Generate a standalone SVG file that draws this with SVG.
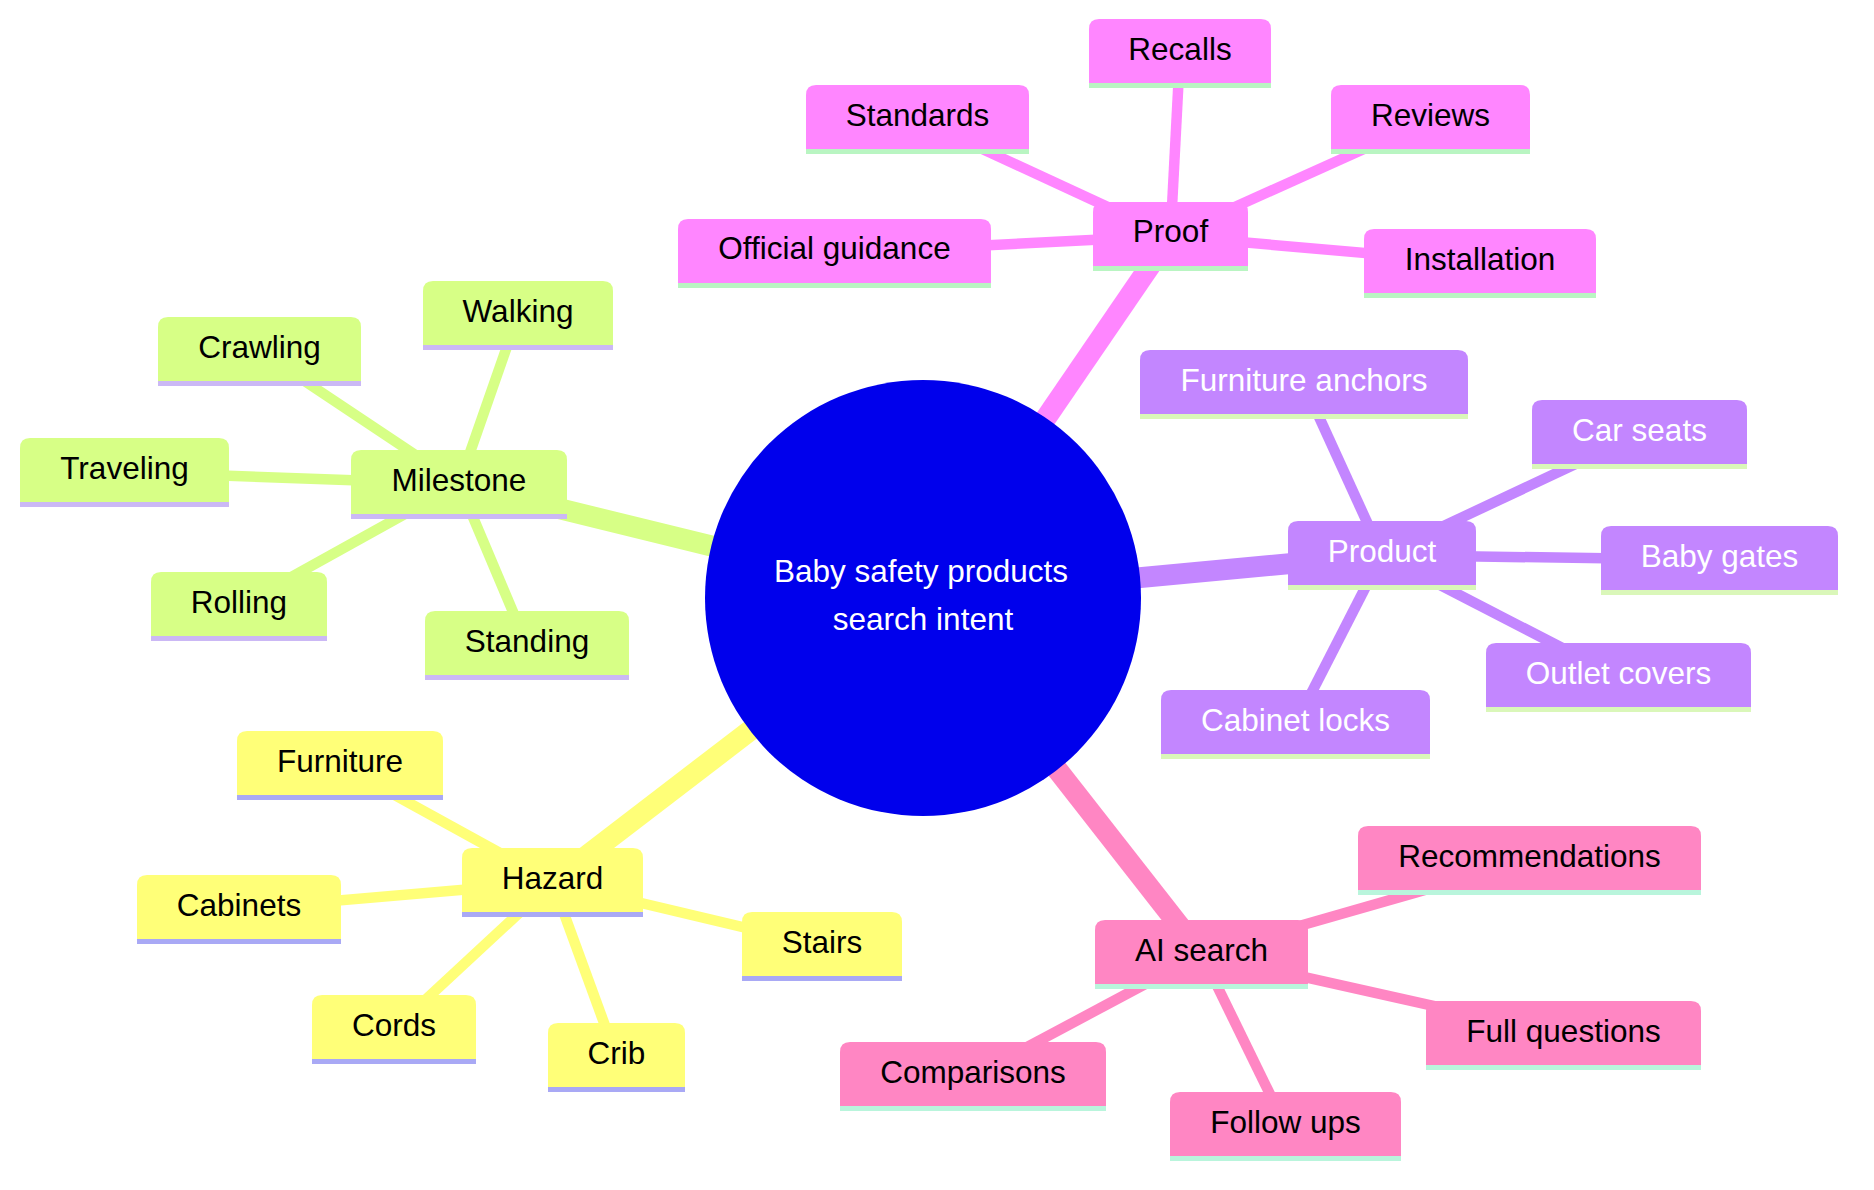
<svg xmlns="http://www.w3.org/2000/svg" width="1874" height="1190" viewBox="0 0 1874 1190">
<style>
text{font-family:"Liberation Sans",Arial,Helvetica,sans-serif;font-size:31.5px;text-anchor:middle}
.e0{stroke-width:21;stroke-linecap:butt;fill:none}
.e1{stroke-width:10.5;stroke-linecap:butt;fill:none}
.s-haz{stroke:#ffff78}.f-haz{fill:#ffff78}.l-haz{fill:#a9a9f5}
.s-mil{stroke:#d7ff86}.f-mil{fill:#d7ff86}.l-mil{fill:#cbb8f5}
.s-prd{stroke:#c386ff}.f-prd{fill:#c386ff}.l-prd{fill:#daf7b9}
.s-prf{stroke:#ff86ff}.f-prf{fill:#ff86ff}.l-prf{fill:#b9f5c2}
.s-ai{stroke:#ff86c3}.f-ai{fill:#ff86c3}.l-ai{fill:#b9f5dc}
.dark{fill:#000}.light{fill:#fff}
</style>
<g id="connectors">
<line class="e0 s-mil" x1="923" y1="598" x2="459" y2="484"/>
<line class="e0 s-prf" x1="923" y1="598" x2="1170.5" y2="236"/>
<line class="e0 s-prd" x1="923" y1="598" x2="1382" y2="555"/>
<line class="e0 s-haz" x1="923" y1="598" x2="552.5" y2="882"/>
<line class="e0 s-ai" x1="923" y1="598" x2="1201.5" y2="954"/>
<line class="e1 s-mil" x1="459" y1="484" x2="259.5" y2="351"/>
<line class="e1 s-mil" x1="459" y1="484" x2="518" y2="315"/>
<line class="e1 s-mil" x1="459" y1="484" x2="124.5" y2="472"/>
<line class="e1 s-mil" x1="459" y1="484" x2="239" y2="606"/>
<line class="e1 s-mil" x1="459" y1="484" x2="527" y2="645"/>
<line class="e1 s-prf" x1="1170.5" y1="236" x2="1180" y2="53"/>
<line class="e1 s-prf" x1="1170.5" y1="236" x2="917.5" y2="119"/>
<line class="e1 s-prf" x1="1170.5" y1="236" x2="1430.5" y2="119"/>
<line class="e1 s-prf" x1="1170.5" y1="236" x2="834.5" y2="253"/>
<line class="e1 s-prf" x1="1170.5" y1="236" x2="1480" y2="263"/>
<line class="e1 s-prd" x1="1382" y1="555" x2="1304" y2="384"/>
<line class="e1 s-prd" x1="1382" y1="555" x2="1639.5" y2="434"/>
<line class="e1 s-prd" x1="1382" y1="555" x2="1719.5" y2="560"/>
<line class="e1 s-prd" x1="1382" y1="555" x2="1618.5" y2="677"/>
<line class="e1 s-prd" x1="1382" y1="555" x2="1295.5" y2="724"/>
<line class="e1 s-haz" x1="552.5" y1="882" x2="340" y2="765"/>
<line class="e1 s-haz" x1="552.5" y1="882" x2="239" y2="909"/>
<line class="e1 s-haz" x1="552.5" y1="882" x2="822" y2="946"/>
<line class="e1 s-haz" x1="552.5" y1="882" x2="394" y2="1029"/>
<line class="e1 s-haz" x1="552.5" y1="882" x2="616.5" y2="1057"/>
<line class="e1 s-ai" x1="1201.5" y1="954" x2="1529.5" y2="860"/>
<line class="e1 s-ai" x1="1201.5" y1="954" x2="1563.5" y2="1035"/>
<line class="e1 s-ai" x1="1201.5" y1="954" x2="973" y2="1076"/>
<line class="e1 s-ai" x1="1201.5" y1="954" x2="1285.5" y2="1126"/>
</g>
<g id="root">
<circle cx="923" cy="598" r="218" fill="#0000ec"/>
<text class="light" x="921" y="582">Baby safety products</text>
<text class="light" x="923" y="630">search intent</text>
</g>
<!-- Milestone section -->
<g id="milestone" transform="translate(351,450)"><path class="f-mil" d="M0 65V10Q0 0 10 0H206Q216 0 216 10V65Z"/><rect class="l-mil" x="0" y="64" width="216" height="5"/><text class="dark" x="108" y="41">Milestone</text></g>
<g id="crawling" transform="translate(158,317)"><path class="f-mil" d="M0 65V10Q0 0 10 0H193Q203 0 203 10V65Z"/><rect class="l-mil" x="0" y="64" width="203" height="5"/><text class="dark" x="101.5" y="41">Crawling</text></g>
<g id="walking" transform="translate(423,281)"><path class="f-mil" d="M0 65V10Q0 0 10 0H180Q190 0 190 10V65Z"/><rect class="l-mil" x="0" y="64" width="190" height="5"/><text class="dark" x="95" y="41">Walking</text></g>
<g id="traveling" transform="translate(20,438)"><path class="f-mil" d="M0 65V10Q0 0 10 0H199Q209 0 209 10V65Z"/><rect class="l-mil" x="0" y="64" width="209" height="5"/><text class="dark" x="104.5" y="41">Traveling</text></g>
<g id="rolling" transform="translate(151,572)"><path class="f-mil" d="M0 65V10Q0 0 10 0H166Q176 0 176 10V65Z"/><rect class="l-mil" x="0" y="64" width="176" height="5"/><text class="dark" x="88" y="41">Rolling</text></g>
<g id="standing" transform="translate(425,611)"><path class="f-mil" d="M0 65V10Q0 0 10 0H194Q204 0 204 10V65Z"/><rect class="l-mil" x="0" y="64" width="204" height="5"/><text class="dark" x="102" y="41">Standing</text></g>
<!-- Proof section -->
<g id="proof" transform="translate(1093,202)"><path class="f-prf" d="M0 65V10Q0 0 10 0H145Q155 0 155 10V65Z"/><rect class="l-prf" x="0" y="64" width="155" height="5"/><text class="dark" x="77.5" y="40">Proof</text></g>
<g id="recalls" transform="translate(1089,19)"><path class="f-prf" d="M0 65V10Q0 0 10 0H172Q182 0 182 10V65Z"/><rect class="l-prf" x="0" y="64" width="182" height="5"/><text class="dark" x="91" y="41">Recalls</text></g>
<g id="standards" transform="translate(806,85)"><path class="f-prf" d="M0 65V10Q0 0 10 0H213Q223 0 223 10V65Z"/><rect class="l-prf" x="0" y="64" width="223" height="5"/><text class="dark" x="111.5" y="41">Standards</text></g>
<g id="reviews" transform="translate(1331,85)"><path class="f-prf" d="M0 65V10Q0 0 10 0H189Q199 0 199 10V65Z"/><rect class="l-prf" x="0" y="64" width="199" height="5"/><text class="dark" x="99.5" y="41">Reviews</text></g>
<g id="official-guidance" transform="translate(678,219)"><path class="f-prf" d="M0 65V10Q0 0 10 0H303Q313 0 313 10V65Z"/><rect class="l-prf" x="0" y="64" width="313" height="5"/><text class="dark" x="156.5" y="40">Official guidance</text></g>
<g id="installation" transform="translate(1364,229)"><path class="f-prf" d="M0 65V10Q0 0 10 0H222Q232 0 232 10V65Z"/><rect class="l-prf" x="0" y="64" width="232" height="5"/><text class="dark" x="116" y="41">Installation</text></g>
<!-- Product section -->
<g id="product" transform="translate(1288,521)"><path class="f-prd" d="M0 65V10Q0 0 10 0H178Q188 0 188 10V65Z"/><rect class="l-prd" x="0" y="64" width="188" height="5"/><text class="light" x="94" y="41">Product</text></g>
<g id="furniture-anchors" transform="translate(1140,350)"><path class="f-prd" d="M0 65V10Q0 0 10 0H318Q328 0 328 10V65Z"/><rect class="l-prd" x="0" y="64" width="328" height="5"/><text class="light" x="164" y="41">Furniture anchors</text></g>
<g id="car-seats" transform="translate(1532,400)"><path class="f-prd" d="M0 65V10Q0 0 10 0H205Q215 0 215 10V65Z"/><rect class="l-prd" x="0" y="64" width="215" height="5"/><text class="light" x="107.5" y="41">Car seats</text></g>
<g id="baby-gates" transform="translate(1601,526)"><path class="f-prd" d="M0 65V10Q0 0 10 0H227Q237 0 237 10V65Z"/><rect class="l-prd" x="0" y="64" width="237" height="5"/><text class="light" x="118.5" y="41">Baby gates</text></g>
<g id="outlet-covers" transform="translate(1486,643)"><path class="f-prd" d="M0 65V10Q0 0 10 0H255Q265 0 265 10V65Z"/><rect class="l-prd" x="0" y="64" width="265" height="5"/><text class="light" x="132.5" y="41">Outlet covers</text></g>
<g id="cabinet-locks" transform="translate(1161,690)"><path class="f-prd" d="M0 65V10Q0 0 10 0H259Q269 0 269 10V65Z"/><rect class="l-prd" x="0" y="64" width="269" height="5"/><text class="light" x="134.5" y="41">Cabinet locks</text></g>
<!-- Hazard section -->
<g id="hazard" transform="translate(462,848)"><path class="f-haz" d="M0 65V10Q0 0 10 0H171Q181 0 181 10V65Z"/><rect class="l-haz" x="0" y="64" width="181" height="5"/><text class="dark" x="90.5" y="41">Hazard</text></g>
<g id="furniture" transform="translate(237,731)"><path class="f-haz" d="M0 65V10Q0 0 10 0H196Q206 0 206 10V65Z"/><rect class="l-haz" x="0" y="64" width="206" height="5"/><text class="dark" x="103" y="41">Furniture</text></g>
<g id="cabinets" transform="translate(137,875)"><path class="f-haz" d="M0 65V10Q0 0 10 0H194Q204 0 204 10V65Z"/><rect class="l-haz" x="0" y="64" width="204" height="5"/><text class="dark" x="102" y="41">Cabinets</text></g>
<g id="stairs" transform="translate(742,912)"><path class="f-haz" d="M0 65V10Q0 0 10 0H150Q160 0 160 10V65Z"/><rect class="l-haz" x="0" y="64" width="160" height="5"/><text class="dark" x="80" y="41">Stairs</text></g>
<g id="cords" transform="translate(312,995)"><path class="f-haz" d="M0 65V10Q0 0 10 0H154Q164 0 164 10V65Z"/><rect class="l-haz" x="0" y="64" width="164" height="5"/><text class="dark" x="82" y="41">Cords</text></g>
<g id="crib" transform="translate(548,1023)"><path class="f-haz" d="M0 65V10Q0 0 10 0H127Q137 0 137 10V65Z"/><rect class="l-haz" x="0" y="64" width="137" height="5"/><text class="dark" x="68.5" y="41">Crib</text></g>
<!-- AI search section -->
<g id="ai-search" transform="translate(1095,920)"><path class="f-ai" d="M0 65V10Q0 0 10 0H203Q213 0 213 10V65Z"/><rect class="l-ai" x="0" y="64" width="213" height="5"/><text class="dark" x="106.5" y="41">AI search</text></g>
<g id="recommendations" transform="translate(1358,826)"><path class="f-ai" d="M0 65V10Q0 0 10 0H333Q343 0 343 10V65Z"/><rect class="l-ai" x="0" y="64" width="343" height="5"/><text class="dark" x="171.5" y="41">Recommendations</text></g>
<g id="full-questions" transform="translate(1426,1001)"><path class="f-ai" d="M0 65V10Q0 0 10 0H265Q275 0 275 10V65Z"/><rect class="l-ai" x="0" y="64" width="275" height="5"/><text class="dark" x="137.5" y="41">Full questions</text></g>
<g id="comparisons" transform="translate(840,1042)"><path class="f-ai" d="M0 65V10Q0 0 10 0H256Q266 0 266 10V65Z"/><rect class="l-ai" x="0" y="64" width="266" height="5"/><text class="dark" x="133" y="41">Comparisons</text></g>
<g id="follow-ups" transform="translate(1170,1092)"><path class="f-ai" d="M0 65V10Q0 0 10 0H221Q231 0 231 10V65Z"/><rect class="l-ai" x="0" y="64" width="231" height="5"/><text class="dark" x="115.5" y="41">Follow ups</text></g>
</svg>
